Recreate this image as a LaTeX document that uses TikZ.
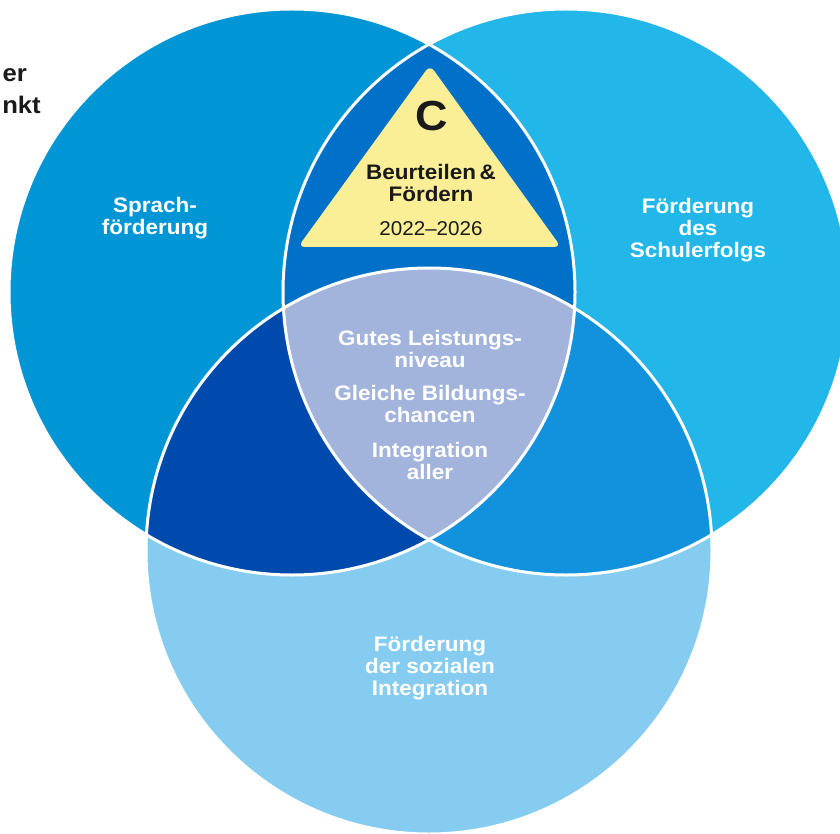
\documentclass[tikz,border=0pt]{standalone}
\usepackage{fontspec}
\setmainfont{Liberation Sans}
\newfontfamily\widebf[FakeStretch=1.07]{Liberation Sans}
\newfontfamily\widerg[FakeStretch=1.03]{Liberation Sans}
\definecolor{cL}{HTML}{0096D6}
\definecolor{cR}{HTML}{23B6E8}
\definecolor{cB}{HTML}{85CCF0}
\definecolor{cLR}{HTML}{0070C8}
\definecolor{cLB}{HTML}{004AAD}
\definecolor{cRB}{HTML}{1292DC}
\definecolor{cC}{HTML}{A2B4DC}
\definecolor{cY}{HTML}{FAEE96}
\definecolor{cK}{HTML}{1A1A1A}
\begin{document}
\begin{tikzpicture}[x=1pt,y=-1pt,
  lbl/.style={text=white,font=\widebf\bfseries\fontsize{21}{22}\selectfont,align=center,inner sep=0pt},
  dark/.style={text=cK,font=\widebf\bfseries\fontsize{21}{22}\selectfont,align=center,inner sep=0pt},
  ring/.style={draw=white,line width=3pt}]
\useasboundingbox (0,0) rectangle (840,834);
\coordinate (L) at (292,292);
\coordinate (R) at (566,292);
\coordinate (B) at (429,551);
% base circles
\fill[cL] (L) circle (283pt);
\fill[cR] (R) circle (283pt);
\fill[cB] (B) circle (283pt);
% pairwise intersections
\begin{scope}
  \clip (L) circle (283pt);
  \fill[cLR] (R) circle (283pt);
  \fill[cLB] (B) circle (283pt);
\end{scope}
\begin{scope}
  \clip (R) circle (283pt);
  \fill[cRB] (B) circle (283pt);
\end{scope}
\begin{scope}
  \clip (L) circle (283pt);
  \clip (R) circle (283pt);
  \fill[cC] (B) circle (283pt);
\end{scope}
% outlines
\draw[ring] (L) circle (283pt);
\draw[ring] (R) circle (283pt);
\draw[ring] (B) circle (283pt);
% triangle
\coordinate (T1) at (430,65);
\coordinate (T2) at (298,247);
\coordinate (T3) at (561,247);
\fill[cY,rounded corners=7pt] (T1) -- (T2) -- (T3) -- cycle;
\node[dark,font=\widebf\bfseries\fontsize{42}{42}\selectfont] (c) at (432,116) {C};
\node[dark] (bf) at (431,183) {Beurteilen\,\&\\Fördern};
\node[dark,font=\widerg\fontsize{20}{22}\selectfont] (yr) at (431,229) {2022–2026};
% top-left cut-off text
\node[dark,anchor=base east,font=\widebf\bfseries\fontsize{24}{26}\selectfont] (t1) at (27,82) {er};
\node[dark,anchor=base east,font=\widebf\bfseries\fontsize{24}{26}\selectfont] (t2) at (41,114) {nkt};
% labels
\node[lbl] (sp) at (155,218) {Sprach-\\förderung};
\node[lbl] (se) at (698,230) {Förderung\\des\\Schulerfolgs};
\node[lbl] (si) at (430,668) {Förderung\\der sozialen\\Integration};
\node[lbl] (g1) at (430,349) {Gutes Leistungs-\\niveau};
\node[lbl] (g2) at (430,404) {Gleiche Bildungs-\\chancen};
\node[lbl] (g3) at (430,461) {Integration\\aller};
\end{tikzpicture}
\end{document}
